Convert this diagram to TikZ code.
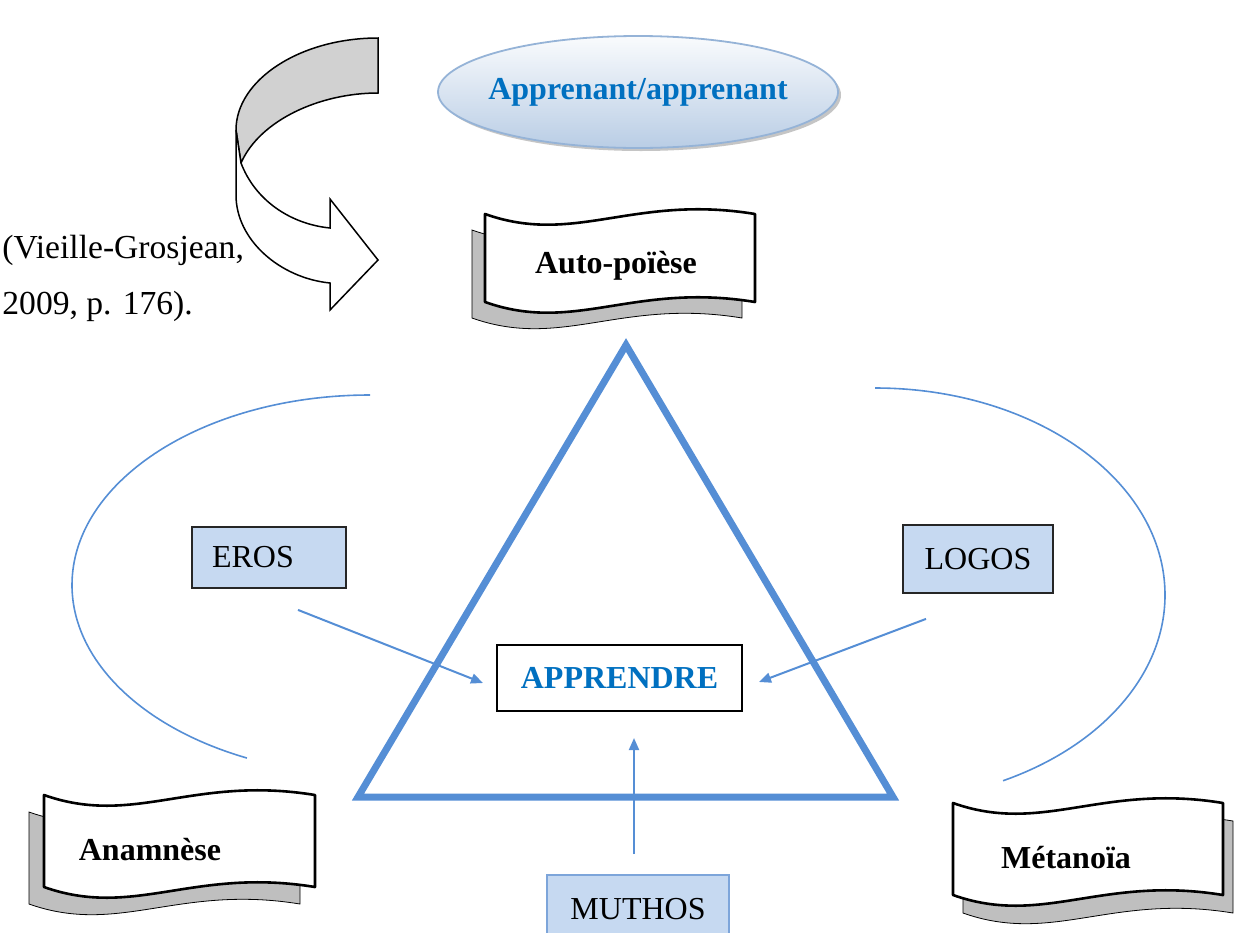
\documentclass[tikz,border=0pt]{standalone}
\usepackage{fontspec}
\setmainfont{Liberation Serif}
\usetikzlibrary{calc,shapes.geometric,shadows,arrows.meta}
\definecolor{triblue}{RGB}{85,142,213}
\definecolor{boxfill}{RGB}{198,217,241}
\definecolor{textblue}{RGB}{0,112,192}
\definecolor{ovalline}{RGB}{149,179,215}
\definecolor{ovalfill}{RGB}{185,205,229}
\definecolor{muthline}{RGB}{125,165,218}

\newcommand\tapeshape[5][]{\draw[#1] (#2,#3) .. controls ({#2+#4/3},{#3-32}) and ({#2+0.55*#4},{#3+20}) .. ({#2+#4},#3)
  -- ({#2+#4},{#3-#5}) .. controls ({#2+0.55*#4},{#3-#5+20}) and ({#2+#4/3},{#3-#5-32}) .. (#2,{#3-#5}) -- cycle;}

\begin{document}
\fontsize{16}{19}\selectfont
\begin{tikzpicture}[x=0.5pt, y=0.5pt,
            tri/.style={draw=triblue, line width=3.5pt, line join=miter},
            halo/.style={draw=triblue, line width=0.8pt},
            flow/.style={draw=triblue, line width=1pt, -{Triangle[length=6pt, width=5pt]}},
            term/.style={rectangle, draw=black!85, line width=0.9pt, fill=boxfill},
            goal/.style={rectangle, draw=black, line width=1pt, fill=white, font=\bfseries, text=textblue},
            tape/.style={draw=black, line width=1.3pt, fill=white, line join=round},
            tapeshadow/.style={fill=black!25},
            bend back/.style={draw=black, line width=0.75pt, fill=black!18},
            bend front/.style={draw=black, line width=0.75pt, fill=white}]

        \useasboundingbox (0,0) rectangle (1234,-932);

        \filldraw[bend back] (378,-38) .. controls (300,-38) and (236,-80) .. (236,-130) -- (241,-163)
            .. controls (260,-120) and (320,-93) .. (378,-93) -- cycle;
        \filldraw[bend front] (241,-163) .. controls (255,-200) and (290,-224) .. (330,-228) -- (330,-199)
            -- (378,-260) -- (330,-310) -- (330,-283) .. controls (280,-278) and (236,-240) .. (236,-195)
            -- (236,-130) -- cycle;
        \node[align=left, anchor=west, inner sep=0, font=\fontsize{16.8}{28}\selectfont] (source) at (2,-278) {(Vieille-Grosjean,\\2009, p. 176).};

        \node[ellipse, draw=ovalline, line width=0.9pt, top color=white!92!ovalfill, bottom color=ovalfill,
            minimum width=200pt, minimum height=56pt, inner xsep=-8pt, inner ysep=0pt, font=\bfseries, text=textblue,
            drop shadow={shadow xshift=1.5pt, shadow yshift=-1.5pt, fill=black!45, opacity=0.5}] (apprenant) at (638,-92) {Apprenant/apprenant};

        \tapeshape[tapeshadow]{472}{-230}{270}{88}
        \tapeshape[tape]{485}{-214}{270}{88}
        \node[font=\bfseries] (autop) at (616,-266) {Auto-poïèse};

        \tapeshape[tapeshadow]{29}{-812}{271}{92}
        \tapeshape[tape]{44}{-795}{271}{92}
        \node[font=\bfseries] (anam) at (150,-850) {Anamnèse};

        \tapeshape[tapeshadow]{963}{-821}{270}{92}
        \tapeshape[tape]{953}{-803}{270}{92}
        \node[font=\bfseries] (meta) at (1066,-858) {Métanoïa};

        \draw[halo] (370,-395) arc[start angle=90, end angle=245.6, x radius=298, y radius=190];
        \draw[halo] (875,-388) arc[start angle=90, end angle=-63.8, x radius=290, y radius=207];
        \draw[tri] (626,-345) -- (893,-797) -- (358,-797) -- cycle;

        \node[term, text width=57pt, align=left, inner xsep=10pt, minimum height=30.5pt] (eros) at (269,-557.5) {EROS};
        \node[term, minimum width=75pt, minimum height=34pt] (logos) at (978,-559) {LOGOS};
        \node[term, draw=muthline, minimum width=91pt, minimum height=34pt] (muthos) at (638,-909) {MUTHOS};
        \node[goal, minimum width=122.5pt, minimum height=33pt] (apprendre) at (619.5,-678) {APPRENDRE};

        \draw[flow] ([shift={(29,-21)}]eros.south) -- ([shift={(-13,-5)}]apprendre.west);
        \draw[flow] ([shift={(-52,-25)}]logos.south) -- ([shift={(16,-4)}]apprendre.east);
        \draw[flow] ([shift={(-4,20)}]muthos.north) -- ([shift={(14.5,-26)}]apprendre.south);
    \end{tikzpicture}
\end{document}
